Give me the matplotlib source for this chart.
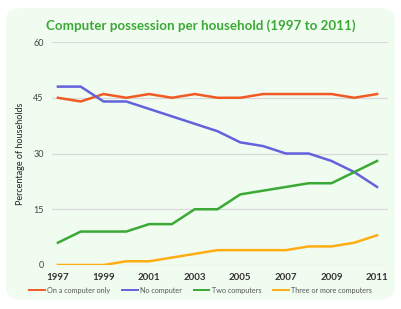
import matplotlib
matplotlib.use("Agg")
import matplotlib.pyplot as plt
from matplotlib.patches import FancyBboxPatch

plt.rcParams["font.family"] = ["Lato", "DejaVu Sans"]

years = list(range(1997, 2012))
one_computer = [45, 44, 46, 45, 46, 45, 46, 45, 45, 46, 46, 46, 46, 45, 46]
no_computer = [48, 48, 44, 44, 42, 40, 38, 36, 33, 32, 30, 30, 28, 25, 21]
two_computers = [6, 9, 9, 9, 11, 11, 15, 15, 19, 20, 21, 22, 22, 25, 28]
three_plus = [0, 0, 0, 1, 1, 2, 3, 4, 4, 4, 4, 5, 5, 6, 8]

series_labels = ["On a computer only", "No computer", "Two computers",
                 "Three or more computers"]
colors = ["#f15a24", "#6262dd", "#3aa935", "#ffad14"]
y_ticks = [0, 15, 30, 45, 60]
x_ticks = [1997, 1999, 2001, 2003, 2005, 2007, 2009, 2011]

fig = plt.figure(figsize=(4.01, 3.09), dpi=100)
fig.patch.set_facecolor("white")

# rounded light-green card behind everything
card = FancyBboxPatch((0.015, 0.03), 0.97, 0.945,
                      boxstyle="round,pad=0,rounding_size=0.04",
                      transform=fig.transFigure, facecolor="#f1fcf1",
                      edgecolor="none", zorder=-10)
fig.patches.append(card)

ax = fig.add_axes([0.1297, 0.1424, 0.8379, 0.7216])
ax.set_facecolor("none")
ax.set_zorder(1)

for vals, lab, c in zip([one_computer, no_computer, two_computers, three_plus],
                        series_labels, colors):
    ax.plot(years, vals, color=c, lw=1.8, label=lab, solid_joinstyle="round")

ax.set_xlim(1997 - 0.26, 2011 + 0.48)
ax.set_ylim(0, 60)
ax.set_yticks(y_ticks)
ax.set_xticks(x_ticks)
ax.grid(axis="y", color="#d9d9d9", lw=0.9)
ax.set_axisbelow(True)
for s in ax.spines.values():
    s.set_visible(False)
ax.tick_params(length=0)
ax.tick_params(axis="y", labelsize=6.5, labelcolor="#444444", pad=6)
ax.tick_params(axis="x", labelsize=7, labelcolor="#333333", pad=6)
for t in ax.get_xticklabels():
    t.set_fontweight("bold")
ax.set_ylabel("Percentage of households", fontsize=6.5, color="#222222",
              labelpad=6)

fig.text(0.5, 0.918, "Computer possession per household (1997 to 2011)",
         ha="center", va="center", fontsize=9.6, fontweight="bold",
         color="#3aa935")

fig.legend(loc="center", bbox_to_anchor=(0.5, 1 - 290 / 309), ncol=4,
           frameon=False, fontsize=5.2, handlelength=2.2, handletextpad=0.3,
           columnspacing=1.6, labelcolor="#555555")
for line in fig.legends[0].get_lines():
    line.set_linewidth(1.4)

fig.savefig("out.png", dpi=100)
